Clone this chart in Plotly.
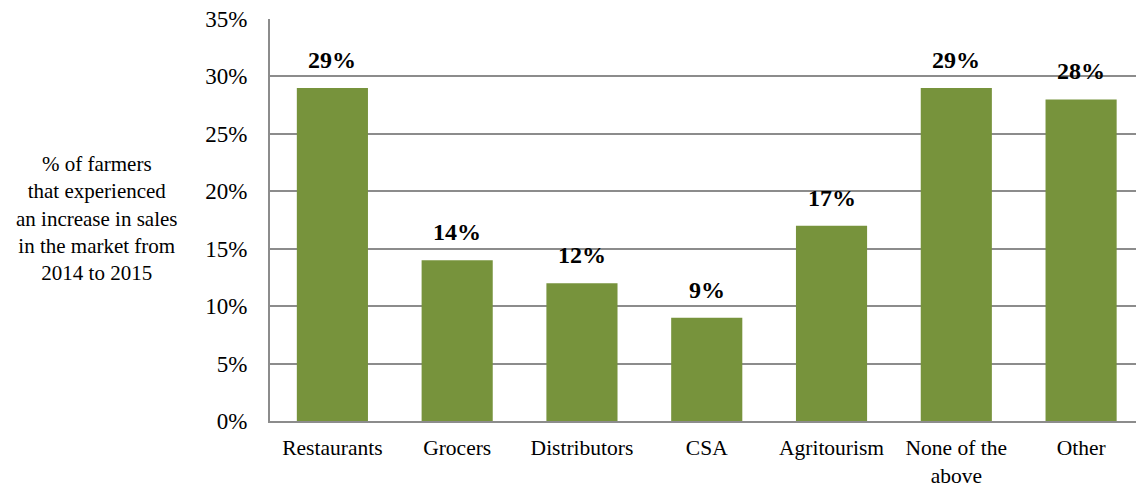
import plotly.graph_objects as go

categories = ["Restaurants", "Grocers", "Distributors", "CSA", "Agritourism",
              "None of the<br>above", "Other"]
share = [0.29, 0.14, 0.12, 0.09, 0.17, 0.29, 0.28]
tick_vals = [0, 0.05, 0.10, 0.15, 0.20, 0.25, 0.30, 0.35]
tick_text = ["0%", "5%", "10%", "15%", "20%", "25%", "30%", "35%"]

FONT = "Liberation Serif, Times New Roman, serif"
W, H = 1136, 487
L, R, T, B = 270, 0, 19, 66

fig = go.Figure(go.Bar(
    x=categories, y=share,
    marker=dict(color="#77933C", line=dict(width=0)),
    hoverinfo="skip",
))

for c, v in zip(categories, share):
    fig.add_annotation(
        x=c, y=v, xref="x", yref="y",
        text=f"<b>{round(v*100)}%</b>",
        showarrow=False, yshift=28,
        font=dict(family=FONT, size=24, color="#000000"),
    )

fig.add_annotation(
    xref="paper", yref="paper",
    x=(97 - L) / (W - L - R), y=(H - B - 218) / (H - T - B),
    xanchor="center", yanchor="middle",
    text="% of farmers<br>that experienced<br>an increase in sales<br>in the market from<br>2014 to 2015",
    showarrow=False, align="center",
    font=dict(family=FONT, size=21, color="#000000"),
)

fig.update_layout(
    width=W, height=H,
    margin=dict(l=L, r=R, t=T, b=B),
    paper_bgcolor="white", plot_bgcolor="white",
    bargap=0.43,
    showlegend=False,
    font=dict(family=FONT, size=22, color="#000000"),
)
fig.update_xaxes(
    range=[-0.5, 6.44], automargin=False,
    showline=True, linecolor="#8C8C8C", linewidth=2,
    showgrid=False, ticks="", tickfont=dict(size=21.5),
    ticklabelstandoff=6,
)
fig.update_yaxes(
    range=[0, 0.35], tickvals=tick_vals, ticktext=tick_text,
    automargin=False,
    showgrid=True, gridcolor="#8C8C8C", gridwidth=1.5,
    showline=True, linecolor="#8C8C8C", linewidth=2,
    zeroline=False, ticks="", tickfont=dict(size=23),
    ticklabelstandoff=16,
)

fig.write_html("out.html")
